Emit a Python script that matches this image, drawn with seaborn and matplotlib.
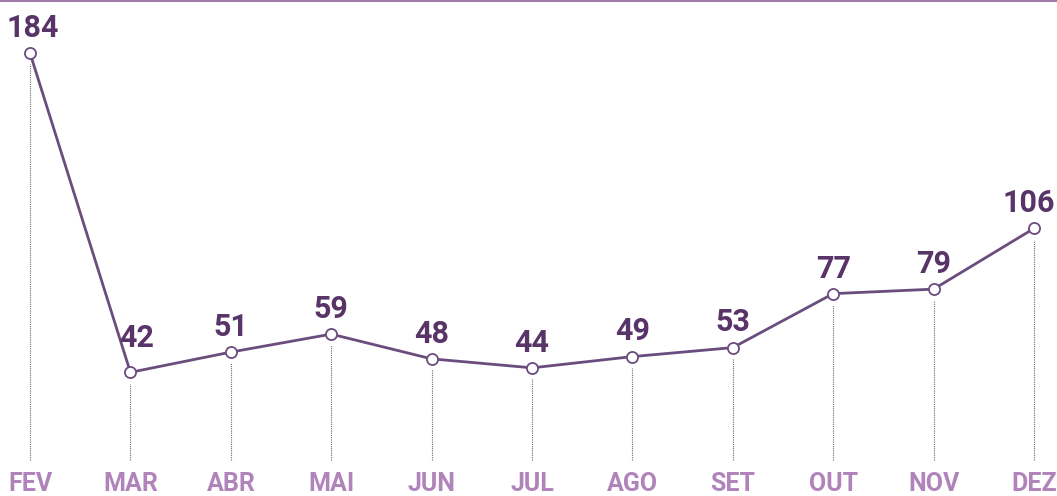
import matplotlib
matplotlib.use('Agg')
import matplotlib.pyplot as plt
import seaborn as sns
import pandas as pd

# Monthly values
months = ['FEV', 'MAR', 'ABR', 'MAI', 'JUN', 'JUL', 'AGO', 'SET', 'OUT', 'NOV', 'DEZ']
values = [184, 42, 51, 59, 48, 44, 49, 53, 77, 79, 106]

df = pd.DataFrame({'pos': range(len(months)), 'month': months, 'value': values})

sns.set_style('white')
plt.rcParams['font.family'] = ['Liberation Sans Narrow', 'Roboto', 'DejaVu Sans']

line_col = '#6b4c7e'
value_col = '#583468'
month_col = '#b183bb'

fig = plt.figure(figsize=(10.57, 4.96), dpi=100)
ax = fig.add_axes([0, 0, 1, 1])

# dotted drop lines
ax.vlines(df['pos'], 3, df['value'] - 5, colors='#7a6660', linestyles=(0, (1, 1)), lw=0.8)

sns.lineplot(data=df, x='pos', y='value', ax=ax, color=line_col, lw=2, marker='o',
             markersize=8, markerfacecolor='white', markeredgecolor=line_col,
             markeredgewidth=1.3)

# small nudges so labels stay inside the frame / clear of the line
nudge = {'FEV': (0.03, 4.5), 'MAR': (0.06, 8.5), 'DEZ': (-0.05, 4.5)}

for i, v in enumerate(values):
    dx, dy = nudge.get(months[i], (0, 4.5))
    ax.text(i + dx, v + dy, str(v), ha='center', va='bottom', fontsize=22,
            fontweight='bold', color=value_col)
    ax.text(i, -12.8, months[i], ha='center', va='bottom', fontsize=18,
            fontweight='bold', color=month_col)

ax.axhline(207.2, color='#a07aa8', lw=1.5)

ax.set_xlim(-0.299, 10.229)
ax.set_ylim(-13, 207.6)
ax.axis('off')

fig.savefig('out.png', dpi=100)
